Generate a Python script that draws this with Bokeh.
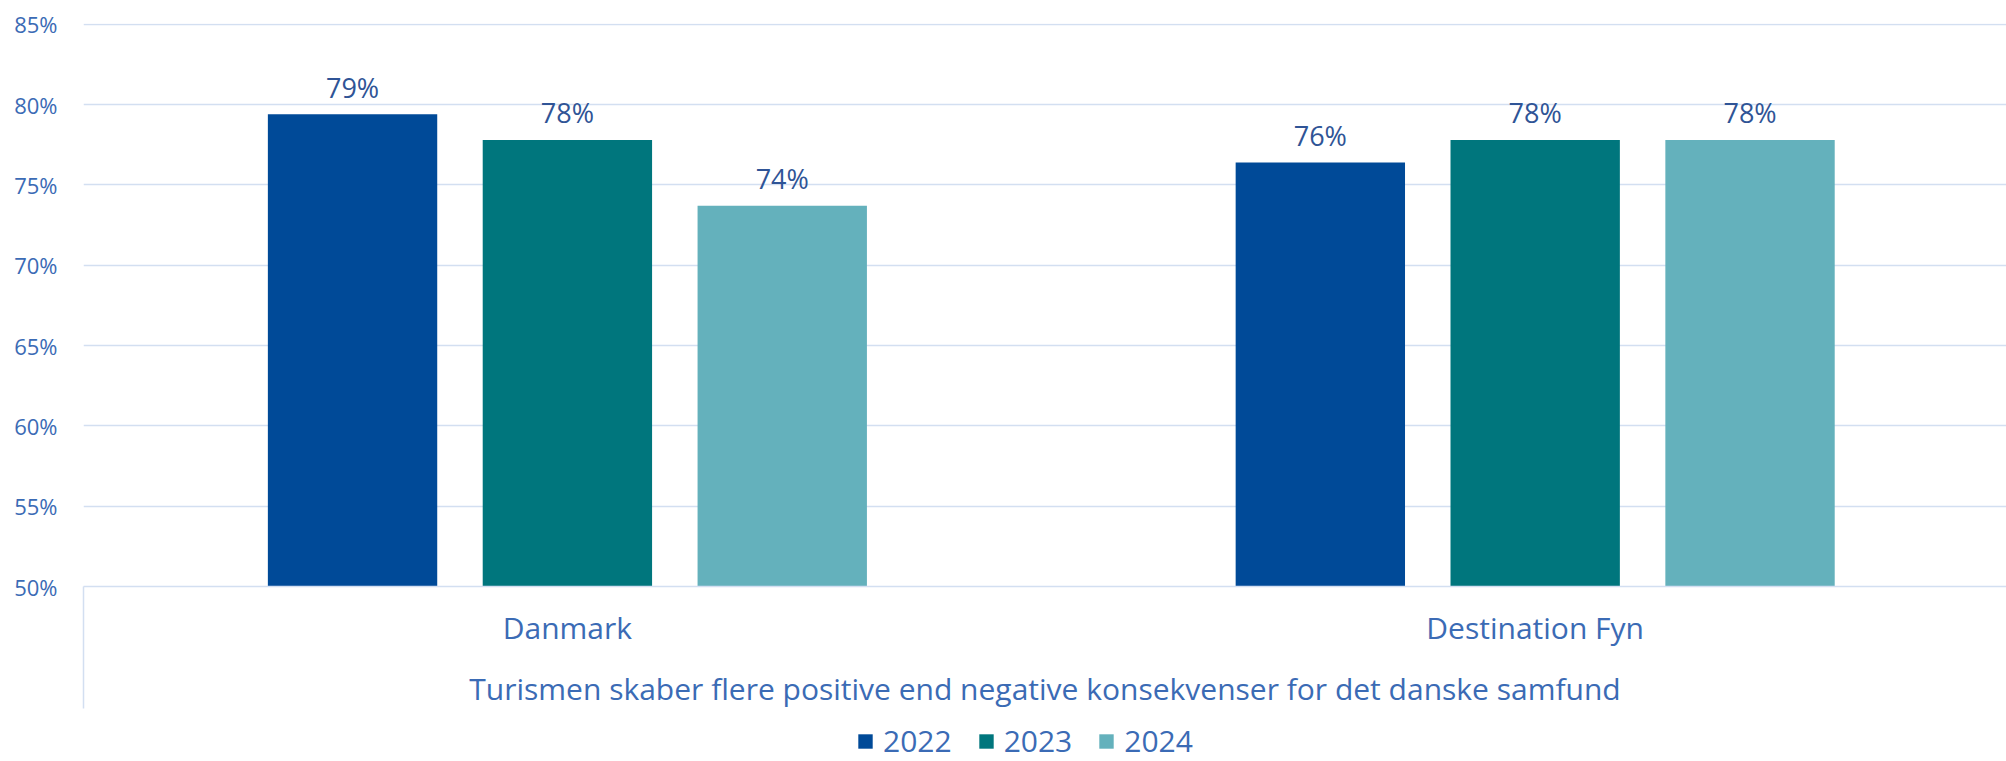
from bokeh.plotting import figure
from bokeh.layouts import column
from bokeh.models import Range1d, FixedTicker, PrintfTickFormatter, ColumnDataSource, Legend, LegendItem
from bokeh.embed import file_html
from bokeh.resources import INLINE
from bokeh.core.properties import value
from bokeh.transform import dodge

# ---- data ----
categories = ["Danmark", "Destination Fyn"]
years = ["2022", "2023", "2024"]
values_2022 = [79.4, 76.4]
values_2023 = [77.8, 77.8]
values_2024 = [73.7, 77.8]
y_ticks = [50, 55, 60, 65, 70, 75, 80, 85]
axis_title = "Turismen skaber flere positive end negative konsekvenser for det danske samfund"

# ---- styles ----
colors = ["#004A98", "#00767D", "#64B1BC"]
FONT = "Open Sans"
AXIS_TEXT = "#3B6BB5"
LABEL_TEXT = "#2F5496"
GRID = "#D3DFF1"

positions = [i + 0.5 for i in range(len(categories))]
src = ColumnDataSource(dict(
    pos=positions,
    v2022=values_2022, v2023=values_2023, v2024=values_2024,
    t2022=[f"{round(v)}%" for v in values_2022],
    t2023=[f"{round(v)}%" for v in values_2023],
    t2024=[f"{round(v)}%" for v in values_2024],
))

W = 2006
H_MAIN = 711
H_LEG = 50

p = figure(width=W, height=H_MAIN, output_backend="svg", toolbar_location=None,
           x_range=Range1d(0, 1.987), y_range=Range1d(50, 85.05),
           min_border_left=83, min_border_right=0, min_border_top=23, min_border_bottom=124)
p.outline_line_color = None
p.background_fill_color = "white"
p.border_fill_color = "white"

offsets = [-0.222, 0.0, 0.222]
bar_w = 0.175
for yr, off, col in zip(years, offsets, colors):
    p.vbar(x=dodge("pos", off), top="v" + yr, bottom=50, width=bar_w, source=src,
           fill_color=col, line_color=None)
    p.text(x=dodge("pos", off), y="v" + yr, text="t" + yr, source=src,
           text_align="center", text_baseline="alphabetic", y_offset=-27,
           text_font=value(FONT), text_font_size="27px", text_color=LABEL_TEXT)

# y axis
ya = p.yaxis[0]
ya.ticker = FixedTicker(ticks=y_ticks)
ya.formatter = PrintfTickFormatter(format="%d%%")
ya.axis_line_color = None
ya.major_tick_line_color = None
ya.minor_tick_line_color = None
ya.major_label_standoff = 20
ya.major_label_text_font = FONT
ya.major_label_text_font_size = "22px"
ya.major_label_text_color = AXIS_TEXT

# x axis
TICK_OUT = 122
xa = p.xaxis[0]
xa.ticker = FixedTicker(ticks=positions, minor_ticks=[0, 2])
xa.major_label_overrides = {pos: cat for pos, cat in zip(positions, categories)}
xa.major_tick_line_color = None
xa.major_tick_out = 0
xa.major_tick_in = 0
xa.minor_tick_in = 0
xa.minor_tick_out = TICK_OUT
xa.minor_tick_line_color = GRID
xa.minor_tick_line_width = 1.5
xa.axis_line_color = GRID
xa.axis_line_width = 1.5
xa.major_label_standoff = 20 - TICK_OUT
xa.major_label_text_font = FONT
xa.major_label_text_font_size = "30px"
xa.major_label_text_color = AXIS_TEXT
xa.axis_label = axis_title
xa.axis_label_standoff = 17
xa.axis_label_text_font = FONT
xa.axis_label_text_font_size = "30px"
xa.axis_label_text_font_style = "normal"
xa.axis_label_text_color = AXIS_TEXT

p.xgrid.grid_line_color = None
p.ygrid.ticker = FixedTicker(ticks=y_ticks)
p.ygrid.grid_line_color = GRID
p.ygrid.grid_line_width = 1.5

# ---- legend strip (same series; the strip's ranges keep its bars out of view) ----
p2 = figure(width=W, height=H_LEG, output_backend="svg", toolbar_location=None,
            x_range=Range1d(-3, -2), y_range=Range1d(-3, -2),
            x_axis_type=None, y_axis_type=None,
            min_border_left=0, min_border_right=0, min_border_top=0, min_border_bottom=0)
p2.outline_line_color = None
p2.grid.grid_line_color = None
leg_renderers = [p2.vbar(x=dodge("pos", off), top="v" + yr, bottom=50, width=bar_w, source=src,
                         fill_color=c, line_color=None)
                 for yr, off, c in zip(years, offsets, colors)]
legend = Legend(items=[LegendItem(label=yr, renderers=[r]) for yr, r in zip(years, leg_renderers)],
                orientation="horizontal", location=(773, 0),
                glyph_width=18, glyph_height=18, label_standoff=9, spacing=25,
                margin=0, padding=0, border_line_color=None, background_fill_alpha=0,
                label_text_font=FONT, label_text_font_size="30px", label_text_color=AXIS_TEXT)
p2.add_layout(legend, "center")

layout = column(p, p2, spacing=0)
open("out.html", "w").write(file_html(layout, INLINE))
